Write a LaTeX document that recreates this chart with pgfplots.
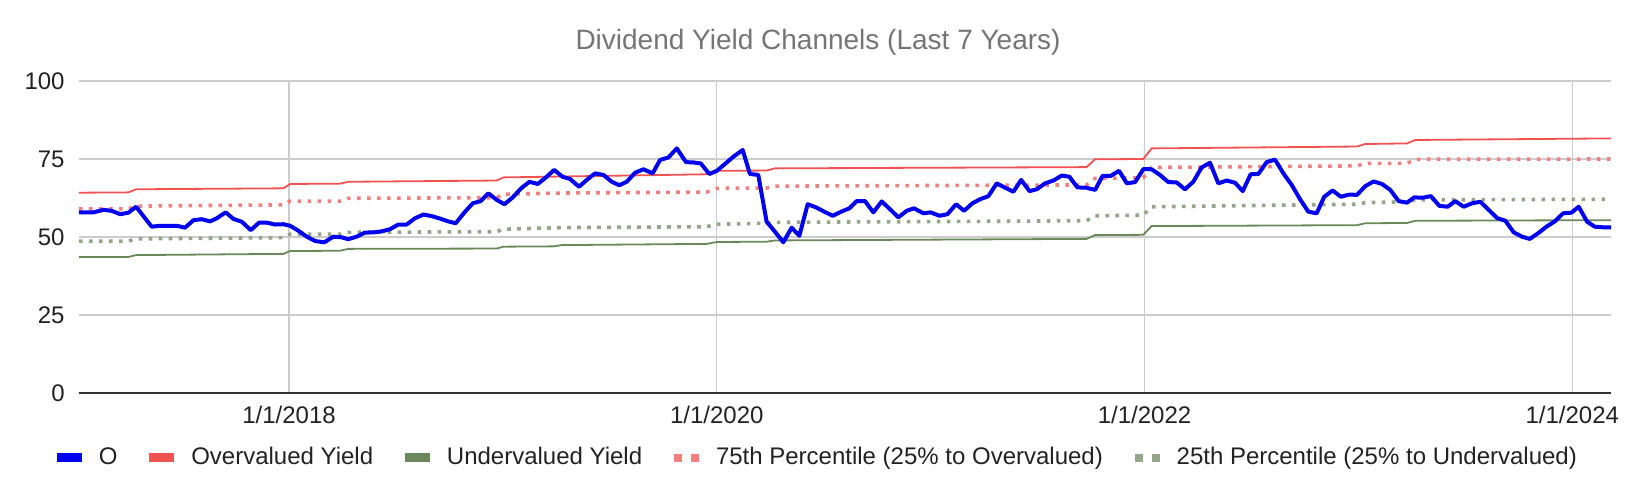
\documentclass[border=0pt]{standalone}
\usepackage{fontspec}
\setmainfont{Liberation Sans}
\usepackage{pgfplots}
\pgfplotsset{compat=1.18}
\usepackage{pgfplotstable}

\definecolor{oblue}{RGB}{0,0,240}
\definecolor{ovred}{RGB}{240,82,82}
\definecolor{ungreen}{RGB}{106,136,92}
\definecolor{pred}{RGB}{243,128,128}
\definecolor{pgreen}{RGB}{148,166,138}
\definecolor{gridgray}{RGB}{204,204,204}
\definecolor{titlegray}{RGB}{117,117,117}
\definecolor{txt}{RGB}{34,34,34}

\pgfplotstableread{
x y
2017.018 57.9
2017.085 57.9
2017.132 58.7
2017.171 58.4
2017.210 57.3
2017.249 57.8
2017.285 59.7
2017.358 53.3
2017.397 53.6
2017.475 53.6
2017.514 53.0
2017.553 55.4
2017.592 55.7
2017.631 55.0
2017.662 56.0
2017.704 57.9
2017.740 55.8
2017.779 54.9
2017.821 52.2
2017.860 54.6
2017.896 54.6
2017.935 54.0
2017.974 54.1
2018.005 53.6
2018.044 52.0
2018.083 50.1
2018.122 48.7
2018.165 48.3
2018.207 50.1
2018.246 49.9
2018.277 49.3
2018.316 50.1
2018.355 51.4
2018.394 51.5
2018.433 51.8
2018.472 52.5
2018.511 54.0
2018.550 54.0
2018.589 56.0
2018.628 57.2
2018.667 56.7
2018.706 55.9
2018.745 55.0
2018.779 54.4
2018.823 58.1
2018.859 60.8
2018.896 61.5
2018.932 64.0
2018.971 61.9
2019.007 60.5
2019.046 62.7
2019.085 65.6
2019.124 67.7
2019.163 67.0
2019.201 69.1
2019.240 71.5
2019.279 69.3
2019.314 68.6
2019.356 66.1
2019.392 68.3
2019.431 70.4
2019.470 69.9
2019.509 67.7
2019.544 66.6
2019.579 67.7
2019.618 70.6
2019.657 71.7
2019.700 70.4
2019.735 74.7
2019.774 75.5
2019.813 78.4
2019.856 74.0
2019.890 73.9
2019.925 73.6
2019.965 70.2
2020.000 71.2
2020.038 73.4
2020.077 75.7
2020.121 77.9
2020.155 70.2
2020.194 69.9
2020.233 54.9
2020.272 51.7
2020.311 48.3
2020.350 53.0
2020.386 50.4
2020.425 60.5
2020.464 59.5
2020.503 58.1
2020.542 56.8
2020.581 58.1
2020.620 59.2
2020.654 61.5
2020.693 61.5
2020.732 57.9
2020.771 61.4
2020.810 58.9
2020.849 56.3
2020.888 58.4
2020.922 59.2
2020.966 57.6
2021.000 57.9
2021.041 56.8
2021.078 57.3
2021.119 60.5
2021.156 58.4
2021.195 60.8
2021.231 62.1
2021.270 63.1
2021.309 67.2
2021.348 65.8
2021.387 64.5
2021.423 68.3
2021.462 64.7
2021.496 65.3
2021.535 67.2
2021.574 68.1
2021.613 69.7
2021.649 69.3
2021.686 65.9
2021.727 65.8
2021.769 65.1
2021.804 69.6
2021.842 69.6
2021.881 71.2
2021.917 67.2
2021.956 67.6
2021.995 71.8
2022.033 71.7
2022.072 69.9
2022.111 67.6
2022.150 67.5
2022.189 65.3
2022.228 67.7
2022.267 72.3
2022.306 73.8
2022.345 67.2
2022.384 68.1
2022.423 67.4
2022.459 64.7
2022.496 70.1
2022.532 70.2
2022.571 74.0
2022.610 74.8
2022.649 70.4
2022.688 66.7
2022.727 62.1
2022.766 58.1
2022.805 57.6
2022.840 62.9
2022.879 64.9
2022.918 62.9
2022.957 63.6
2022.993 63.5
2023.032 66.3
2023.071 67.8
2023.110 67.0
2023.149 65.1
2023.188 61.5
2023.227 61.0
2023.261 62.7
2023.300 62.6
2023.339 63.1
2023.378 60.0
2023.417 59.7
2023.453 61.5
2023.492 59.7
2023.531 60.8
2023.570 61.3
2023.609 58.7
2023.648 56.1
2023.687 55.2
2023.726 51.5
2023.765 50.1
2023.801 49.4
2023.840 51.2
2023.879 53.3
2023.918 55.0
2023.957 57.6
2023.996 57.8
2024.030 59.7
2024.069 54.9
2024.105 53.3
2024.147 53.1
2024.181 53.1
}\otab

\pgfplotstableread{
x y
2017.018 64.2
2017.249 64.3
2017.285 65.3
2017.974 65.6
2018.005 67.0
2018.238 67.1
2018.277 67.7
2018.971 68.1
2019.002 69.1
2019.953 70.1
2020.000 71.2
2020.233 71.3
2020.272 72.0
2021.729 72.4
2021.768 74.9
2021.994 75.0
2022.033 78.4
2022.993 79.0
2023.032 79.8
2023.227 80.0
2023.266 81.1
2024.181 81.6
}\overtab

\pgfplotstableread{
x y
2017.018 43.6
2017.249 43.6
2017.285 44.2
2017.974 44.6
2018.005 45.5
2018.238 45.6
2018.277 46.2
2018.971 46.3
2019.002 46.9
2019.236 47.0
2019.275 47.4
2019.953 47.8
2020.000 48.4
2020.233 48.5
2020.272 48.9
2021.729 49.4
2021.768 50.6
2021.994 50.7
2022.033 53.5
2022.993 53.8
2023.032 54.4
2023.227 54.5
2023.266 55.2
2024.181 55.4
}\undertab

\pgfplotstableread{
x y
2017.018 59.0
2017.249 59.0
2017.285 59.9
2017.974 60.3
2018.005 61.5
2018.238 61.5
2018.277 62.4
2018.971 62.6
2019.002 63.7
2019.275 64.1
2019.953 64.4
2020.000 65.6
2020.233 65.7
2020.272 66.3
2021.729 66.7
2021.768 68.8
2021.994 69.0
2022.033 72.3
2022.993 72.8
2023.032 73.6
2023.227 73.6
2023.266 74.9
2024.181 75.0
}\pseventyfive

\pgfplotstableread{
x y
2017.018 48.7
2017.249 48.7
2017.285 49.4
2017.974 49.8
2018.005 50.9
2018.238 50.9
2018.277 51.5
2018.971 51.7
2019.002 52.5
2019.275 53.0
2019.953 53.3
2020.000 54.1
2020.233 54.4
2020.272 54.7
2021.729 55.2
2021.768 56.8
2021.994 57.0
2022.033 59.7
2022.993 60.5
2023.032 61.0
2023.227 61.3
2023.266 61.9
2024.181 62.1
}\ptwentyfive

\begin{document}
\begin{tikzpicture}
\useasboundingbox (-39.5pt,-50.5pt) rectangle (778.5pt,196.5pt);
\begin{axis}[
  at={(0pt,0pt)}, anchor=south west,
  scale only axis, width=766pt, height=156pt,
  xmin=2017.018, xmax=2024.181, ymin=0, ymax=100,
  axis line style={draw=none},
  xtick={2018,2020,2022,2024},
  xticklabels={1/1/2018,1/1/2020,1/1/2022,1/1/2024},
  ytick={25,50,75,100},
  extra y ticks={0},
  extra y tick style={grid=major, major grid style={color=black!80, line width=0.9pt}},
  grid=major,
  major grid style={color=gridgray, line width=0.65pt},
  major tick length=0pt,
  /pgf/number format/assume math mode=true,
  tick label style={font=\fontsize{12}{14}\selectfont, text=txt, inner sep=0pt},
  xticklabel style={yshift=-6.5pt},
  yticklabel style={xshift=-7pt},
  title={Dividend Yield Channels (Last 7 Years)},
  title style={font=\fontsize{14}{16}\selectfont, text=titlegray, at={(0.4824,1.0994)}, anchor=base, yshift=-6pt, inner sep=0pt},
  legend columns=5,
  legend style={draw=none, fill=none, at={(0.4817,-0.207)}, anchor=center,
    font=\fontsize{12}{14}\selectfont, text=txt, inner sep=0pt,
    nodes={inner sep=0pt},
    /tikz/every odd column/.append style={column sep=8.5pt},
    /tikz/every even column/.append style={column sep=16pt}},
]
\addlegendimage{legend image code/.code={\fill[oblue] (0pt,-2pt) rectangle (12pt,2pt);}}
\addlegendentry{O}
\addlegendimage{legend image code/.code={\fill[ovred] (0pt,-2pt) rectangle (12pt,2pt);}}
\addlegendentry{Overvalued Yield}
\addlegendimage{legend image code/.code={\fill[ungreen] (0pt,-2pt) rectangle (12pt,2pt);}}
\addlegendentry{Undervalued Yield}
\addlegendimage{legend image code/.code={\fill[pred] (0pt,-1.8pt) rectangle (3.6pt,1.8pt); \fill[pred] (8.4pt,-1.8pt) rectangle (12pt,1.8pt);}}
\addlegendentry{75th Percentile (25\% to Overvalued)}
\addlegendimage{legend image code/.code={\fill[pgreen] (0pt,-1.8pt) rectangle (3.6pt,1.8pt); \fill[pgreen] (8.4pt,-1.8pt) rectangle (12pt,1.8pt);}}
\addlegendentry{25th Percentile (25\% to Undervalued)}

\addplot[ovred, line width=0.9pt, forget plot] table {\overtab};
\addplot[ungreen, line width=0.9pt, forget plot] table {\undertab};
\addplot[pred, line width=1.8pt, dash pattern=on 1.8pt off 3.2pt, forget plot] table {\pseventyfive};
\addplot[pgreen, line width=1.8pt, dash pattern=on 1.8pt off 3.2pt, forget plot] table {\ptwentyfive};
\addplot[oblue, line width=2pt, line join=round, forget plot] table {\otab};
\end{axis}
\end{tikzpicture}
\end{document}
